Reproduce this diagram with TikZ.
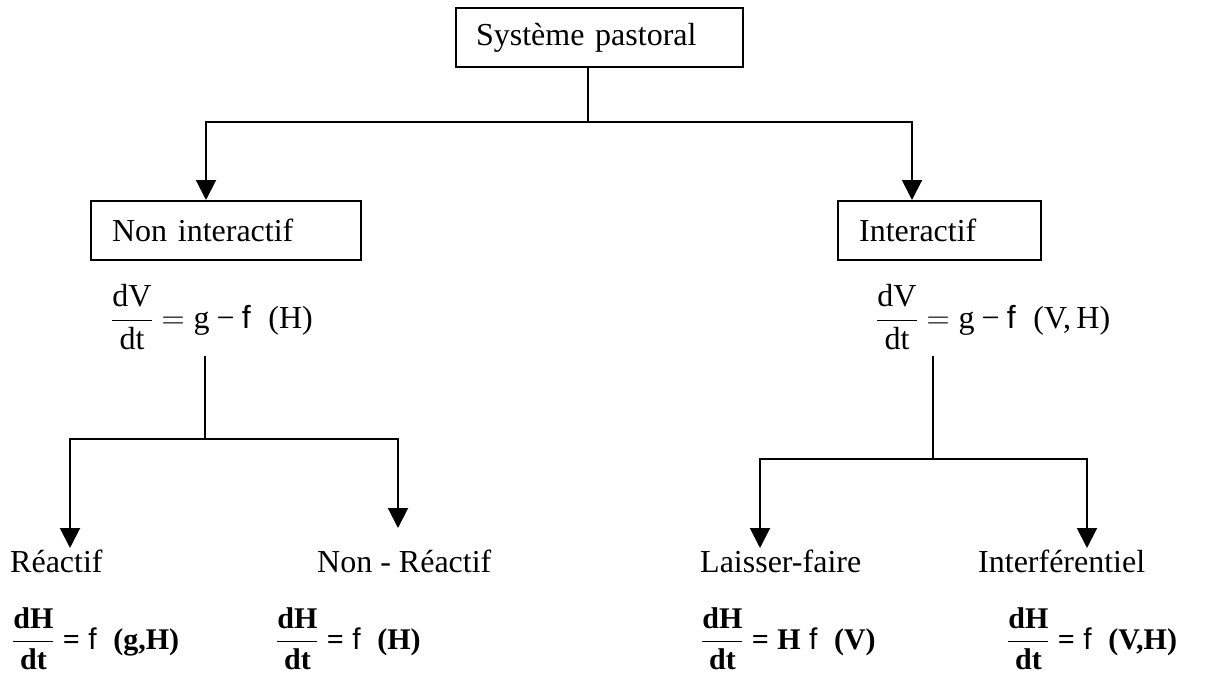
\documentclass[tikz,border=0pt]{standalone}
\usepackage{fix-cm}
\usepackage{fontspec}
\setmainfont{Liberation Serif}
\newfontfamily\sff{Liberation Sans}
\usetikzlibrary{arrows.meta}
\newcommand\eqfrac[2]{\displaystyle\frac{\mbox{#1}}{\mbox{#2}}}
\newcommand\bfrac[2]{\displaystyle\frac{\mbox{#1}\rule[-9pt]{0pt}{0pt}}{\rule{0pt}{26pt}\mbox{#2}}}
\newcommand\ff{\mbox{\sff\mdseries f}}
\newcommand\eqs{\mathrel{\mbox{=}}}
\newcommand\mns{\mathbin{\mbox{−}}}
\tikzset{
  box/.style={draw, line width=2.2pt, minimum height=59pt, inner ysep=0pt, align=left, anchor=north west,
              font=\fontsize{32}{38}\selectfont},
  lbl/.style={inner sep=0pt, anchor=base west, font=\fontsize{32}{38}\selectfont},
  eq/.style={inner sep=0pt, anchor=base west, font=\fontsize{32}{38}\selectfont},
  beq/.style={inner sep=0pt, anchor=base west, font=\fontsize{30}{36}\selectfont\bfseries},
  conn/.style={line width=2pt},
  arr/.style={conn, -{Triangle[width=20pt,length=20pt]}},
}
\begin{document}
\begin{tikzpicture}[x=1pt,y=-1pt]
\useasboundingbox (0,0) rectangle (1227,677);
% boxes
\node[box, inner xsep=20pt, text width=247pt] (sys) at (455,7) {Système pastoral};
\node[box, inner xsep=21pt, text width=228pt] (ni) at (90,200) {Non interactif};
\node[box, inner xsep=21pt, text width=161pt] (ia) at (837,200) {Interactif};
% middle equations
\node[eq] (eqL) at (111,328) {$\eqfrac{dV}{dt} = \mbox{g} \mns \ff\;\;\mbox{(H)}$};
\node[eq] (eqR) at (876,328) {$\eqfrac{dV}{dt} = \mbox{g} \mns \ff\;\;\mbox{(V,\,H)}$};
% bottom labels
\node[lbl] (re) at (10,572) {Réactif};
\node[lbl] (nr) at (317,572) {Non - Réactif};
\node[lbl] (lf) at (700,572) {Laisser-faire};
\node[lbl] (it) at (978,572) {Interférentiel};
% bottom equations
\node[beq] (e1) at (12,649) {$\bfrac{dH}{dt} \eqs \ff\;\;\mbox{(g,H)}$};
\node[beq] (e2) at (276,649) {$\bfrac{dH}{dt} \eqs \ff\;\;\mbox{(H)}$};
\node[beq] (e3) at (701,649) {$\bfrac{dH}{dt} \eqs \mbox{H}\;\ff\;\;\mbox{(V)}$};
\node[beq] (e4) at (1007,649) {$\bfrac{dH}{dt} \eqs \ff\;\;\mbox{(V,H)}$};
% connectors top
\coordinate (j1) at (588,122);
\coordinate (t1) at (206,200);
\coordinate (t2) at (912,200);
\draw[conn] (sys.south -| j1) -- (j1);
\draw[arr] (j1) -| (t1);
\draw[arr] (j1) -| (t2);
% left branch
\coordinate (s1) at (205,356);
\coordinate (j2) at (205,439);
\coordinate (t3) at (70,548);
\coordinate (t4) at (398,528);
\draw[conn] (s1) -- (j2);
\draw[arr] (j2) -| (t3);
\draw[arr] (j2) -| (t4);
% right branch
\coordinate (s2) at (933,356);
\coordinate (j3) at (933,459);
\coordinate (t5) at (760,548);
\coordinate (t6) at (1087,548);
\draw[conn] (s2) -- (j3);
\draw[arr] (j3) -| (t5);
\draw[arr] (j3) -| (t6);
\end{tikzpicture}
\end{document}
